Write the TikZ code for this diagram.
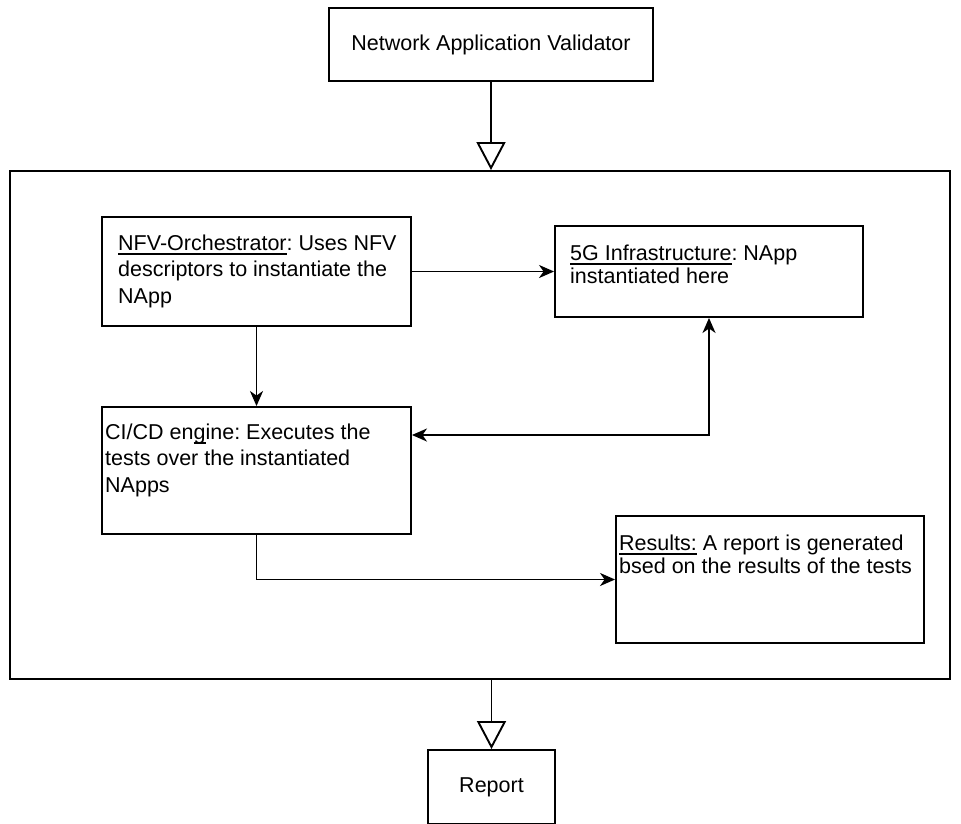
\documentclass[tikz,border=0pt]{standalone}
\usepackage{fontspec}
\setmainfont{Liberation Sans}
\usetikzlibrary{arrows.meta}

% underline with a fixed offset below the baseline
\newcommand\ulin[1]{\leavevmode\sbox0{#1}\rlap{\rule[-4.5pt]{\wd0}{1.5pt}}\usebox0}

\tikzset{
  >={Stealth[length=15pt, width=13pt, inset=4.5pt]},
  box/.style={draw=black, line width=1.9pt, fill=white, inner sep=0pt},
  txt/.style={anchor=north west, inner sep=0pt, align=left,
    font=\fontsize{21.5}{26.5}\selectfont\frenchspacing},
  txtnarrow/.style={txt, font=\fontsize{21.5}{23}\selectfont\frenchspacing},
  link/.style={draw=black, line width=1.9pt, ->},
  biglink/.style={draw=black, line width=1.9pt,
    -{Triangle[open, length=28pt, width=29pt, fill=white]}},
}

\begin{document}
\begin{tikzpicture}[x=1pt, y=-1pt]
  \clip (0,0) rectangle (961,823);
  \fill[white] (0,0) rectangle (961,823);

  % outer stages
  \node[box, minimum width=324pt, minimum height=73pt,
        font=\fontsize{21.5}{26.5}\selectfont] (validator) at (491,44.5)
        {Network Application Validator};
  \node[box, minimum width=940pt, minimum height=508pt] (frame) at (480,425) {};
  \node[box, minimum width=127pt, minimum height=74pt,
        font=\fontsize{21.5}{26.5}\selectfont] (report) at (491.5,787)
        {Report};

  % inner blocks
  \node[box, minimum width=309pt, minimum height=109pt] (nfv) at (256.5,271.5) {};
  \node[box, minimum width=308pt, minimum height=91pt] (infra) at (709,271.5) {};
  \node[box, minimum width=309pt, minimum height=127pt] (cicd) at (256.5,470.5) {};
  \node[box, minimum width=308pt, minimum height=127pt] (results) at (770,579.5) {};

  % block texts
  \node[txt] (nfvtxt) at (118,231.5)
    {\strut\ulin{NFV-Orchestrator}: Uses NFV\\descriptors to instantiate the\\NApp};
  \node[txtnarrow] (infratxt) at (570,243.9)
    {\strut\ulin{5G Infrastructure}: NApp\\instantiated here};
  \node[txt] (cicdtxt) at (105,420.5)
    {\strut CI/CD en\ulin{g}ine: Executes the\\tests over the instantiated\\NApps};
  \node[txtnarrow] (resultstxt) at (619,533.9)
    {\strut\ulin{Results:} A report is generated\\bsed on the results of the tests};

  % flow between stages
  \draw[biglink] (validator.south) -- (validator.south |- frame.north);
  \draw[biglink] (report.north |- frame.south) -- (report.north);

  % flow between blocks
  \draw[link] (nfv.east) -- (infra.west);
  \draw[link] (nfv.south) -- (cicd.north);
  \draw[link, <->] (infra.south) |- ([yshift=35.5pt]cicd.east);
  \draw[link] (cicd.south) |- (results.west);
\end{tikzpicture}
\end{document}
